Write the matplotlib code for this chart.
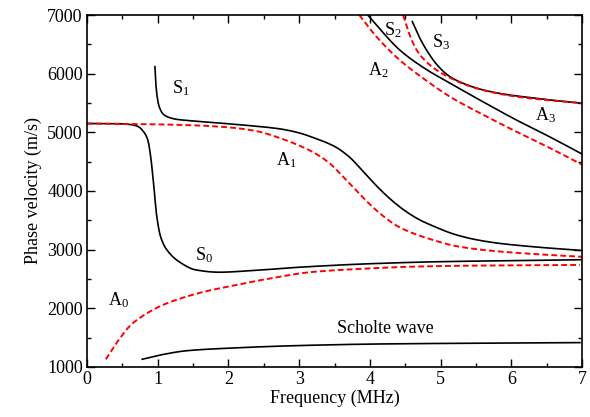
import matplotlib
matplotlib.use("Agg")
import matplotlib.pyplot as plt
from matplotlib.ticker import MultipleLocator
import numpy as np

plt.rcParams['font.family'] = ['Liberation Serif', 'DejaVu Serif']
plt.rcParams['mathtext.fontset'] = 'custom'
plt.rcParams['mathtext.rm'] = 'Liberation Serif'
plt.rcParams['mathtext.it'] = 'Liberation Serif:italic'

# ---- data (frequency MHz, phase velocity m/s) ----
s0_f = [0.0, 0.4, 0.6, 0.72, 0.8, 0.86, 0.9, 0.95, 0.98, 1.04, 1.13, 1.3, 1.54, 1.87, 2.3, 3.0, 4.0, 5.0, 6.0, 7.0]
s0_v = [5150, 5148, 5135, 5100, 5010, 4870, 4586, 4018, 3625, 3222, 2995, 2795, 2654, 2615, 2640, 2700, 2760, 2795, 2812, 2828]

s1_f = [0.96, 0.98, 1.02, 1.09, 1.26, 1.44, 1.8, 2.2, 2.72, 3.0, 3.2, 3.5, 3.7, 3.9, 4.1, 4.3, 4.5, 4.7, 4.9, 5.2, 5.5, 5.8, 6.3, 7.0]
s1_v = [6120, 5723, 5438, 5296, 5223, 5200, 5165, 5125, 5060, 4990, 4910, 4760, 4590, 4340, 4080, 3850, 3660, 3510, 3400, 3260, 3170, 3112, 3050, 2985]

a0_f = [0.265, 0.43, 0.62, 0.81, 1.04, 1.33, 1.66, 2.04, 2.5, 3.19, 4.0, 4.6, 5.5, 6.97]
a0_v = [1131, 1431, 1716, 1887, 2040, 2171, 2284, 2381, 2490, 2620, 2680, 2710, 2728, 2739]

a1_f = [0.0, 0.8, 1.5, 2.0, 2.4, 2.72, 3.0, 3.2, 3.43, 3.6, 3.8, 3.95, 4.18, 4.42, 4.89, 5.22, 5.6, 6.2, 7.0]
a1_v = [5150, 5140, 5120, 5085, 5020, 4905, 4775, 4660, 4473, 4270, 4018, 3830, 3580, 3380, 3165, 3060, 2995, 2935, 2878]

sch_f = [0.78, 1.04, 1.42, 1.98, 3.0, 4.14, 5.5, 6.97]
sch_v = [1131, 1205, 1278, 1319, 1365, 1392, 1405, 1415]

a2_f = [3.85, 4.1, 4.42, 4.8, 5.13, 5.6, 6.07, 6.5, 7.0]
a2_v = [7000, 6620, 6234, 5880, 5609, 5300, 5012, 4760, 4450]

s2_f = [3.97, 4.2, 4.42, 4.8, 5.13, 5.6, 6.07, 6.5, 7.0]
s2_v = [7000, 6680, 6405, 6070, 5840, 5520, 5211, 4950, 4630]

a3_f = [4.47, 4.55, 4.66, 4.8, 4.94, 5.15, 5.36, 5.7, 6.07, 6.5, 7.0]
a3_v = [7000, 6700, 6405, 6200, 6064, 5920, 5808, 5690, 5609, 5550, 5500]

s3_f = [4.6, 4.7, 4.8, 4.95, 5.13, 5.35, 5.6, 5.9, 6.3, 6.6, 7.0]
s3_v = [6888, 6620, 6405, 6150, 5950, 5820, 5723, 5650, 5587, 5545, 5495]

labels = [
    (r'$\mathrm{S}_1$', 1.33, 5755),
    (r'$\mathrm{S}_0$', 1.66, 2905),
    (r'$\mathrm{A}_1$', 2.82, 4530),
    (r'$\mathrm{A}_0$', 0.45, 2140),
    ('Scholte wave', 4.22, 1660),
    (r'$\mathrm{S}_2$', 4.32, 6745),
    (r'$\mathrm{A}_2$', 4.12, 6060),
    (r'$\mathrm{S}_3$', 5.0, 6540),
    (r'$\mathrm{A}_3$', 6.48, 5290),
]


def pchip(x, y, n=400):
    """Monotone cubic (PCHIP) smoothing through the read points, for drawing."""
    x = np.asarray(x, float)
    y = np.asarray(y, float)
    h = np.diff(x)
    d = np.diff(y) / h
    m = np.zeros_like(y)
    for k in range(1, len(x) - 1):
        if d[k - 1] * d[k] <= 0:
            m[k] = 0.0
        else:
            w1 = 2 * h[k] + h[k - 1]
            w2 = h[k] + 2 * h[k - 1]
            m[k] = (w1 + w2) / (w1 / d[k - 1] + w2 / d[k])
    m[0] = d[0]
    m[-1] = d[-1]
    xs = np.linspace(x[0], x[-1], n)
    idx = np.clip(np.searchsorted(x, xs) - 1, 0, len(x) - 2)
    t = (xs - x[idx]) / h[idx]
    h00 = 2 * t**3 - 3 * t**2 + 1
    h10 = t**3 - 2 * t**2 + t
    h01 = -2 * t**3 + 3 * t**2
    h11 = t**3 - t**2
    ys = h00 * y[idx] + h10 * h[idx] * m[idx] + h01 * y[idx + 1] + h11 * h[idx] * m[idx + 1]
    return xs, ys


fig = plt.figure(figsize=(5.9, 4.17), dpi=100)
ax = fig.add_axes([0.1475, 0.12, 0.8390, 0.844])

black_kw = dict(color='black', lw=1.2)
red_kw = dict(color='red', lw=1.4, ls=(0, (3, 1.6)))

for f, v in [(s0_f, s0_v), (s1_f, s1_v), (sch_f, sch_v), (s2_f, s2_v), (s3_f, s3_v)]:
    ax.plot(*pchip(f, v), **black_kw)
for f, v in [(a0_f, a0_v), (a1_f, a1_v), (a2_f, a2_v), (a3_f, a3_v)]:
    ax.plot(*pchip(f, v), **red_kw)

for txt, x, y in labels:
    ax.text(x, y, txt, fontsize=13, ha='center', va='center')

ax.set_xlim(0, 7)
ax.set_ylim(1000, 7000)
ax.xaxis.set_major_locator(MultipleLocator(1))
ax.xaxis.set_minor_locator(MultipleLocator(0.5))
ax.yaxis.set_major_locator(MultipleLocator(1000))
ax.yaxis.set_minor_locator(MultipleLocator(500))
ax.tick_params(which='both', direction='in', top=True, right=True, labelsize=13, pad=3)
ax.tick_params(which='major', length=6, width=1)
ax.tick_params(which='minor', length=3, width=1)
for s in ax.spines.values():
    s.set_linewidth(1.2)
ax.set_xlabel('Frequency (MHz)', fontsize=13, labelpad=1)
ax.set_ylabel('Phase velocity (m/s)', fontsize=13, labelpad=4)

fig.savefig('out.png', dpi=100)
